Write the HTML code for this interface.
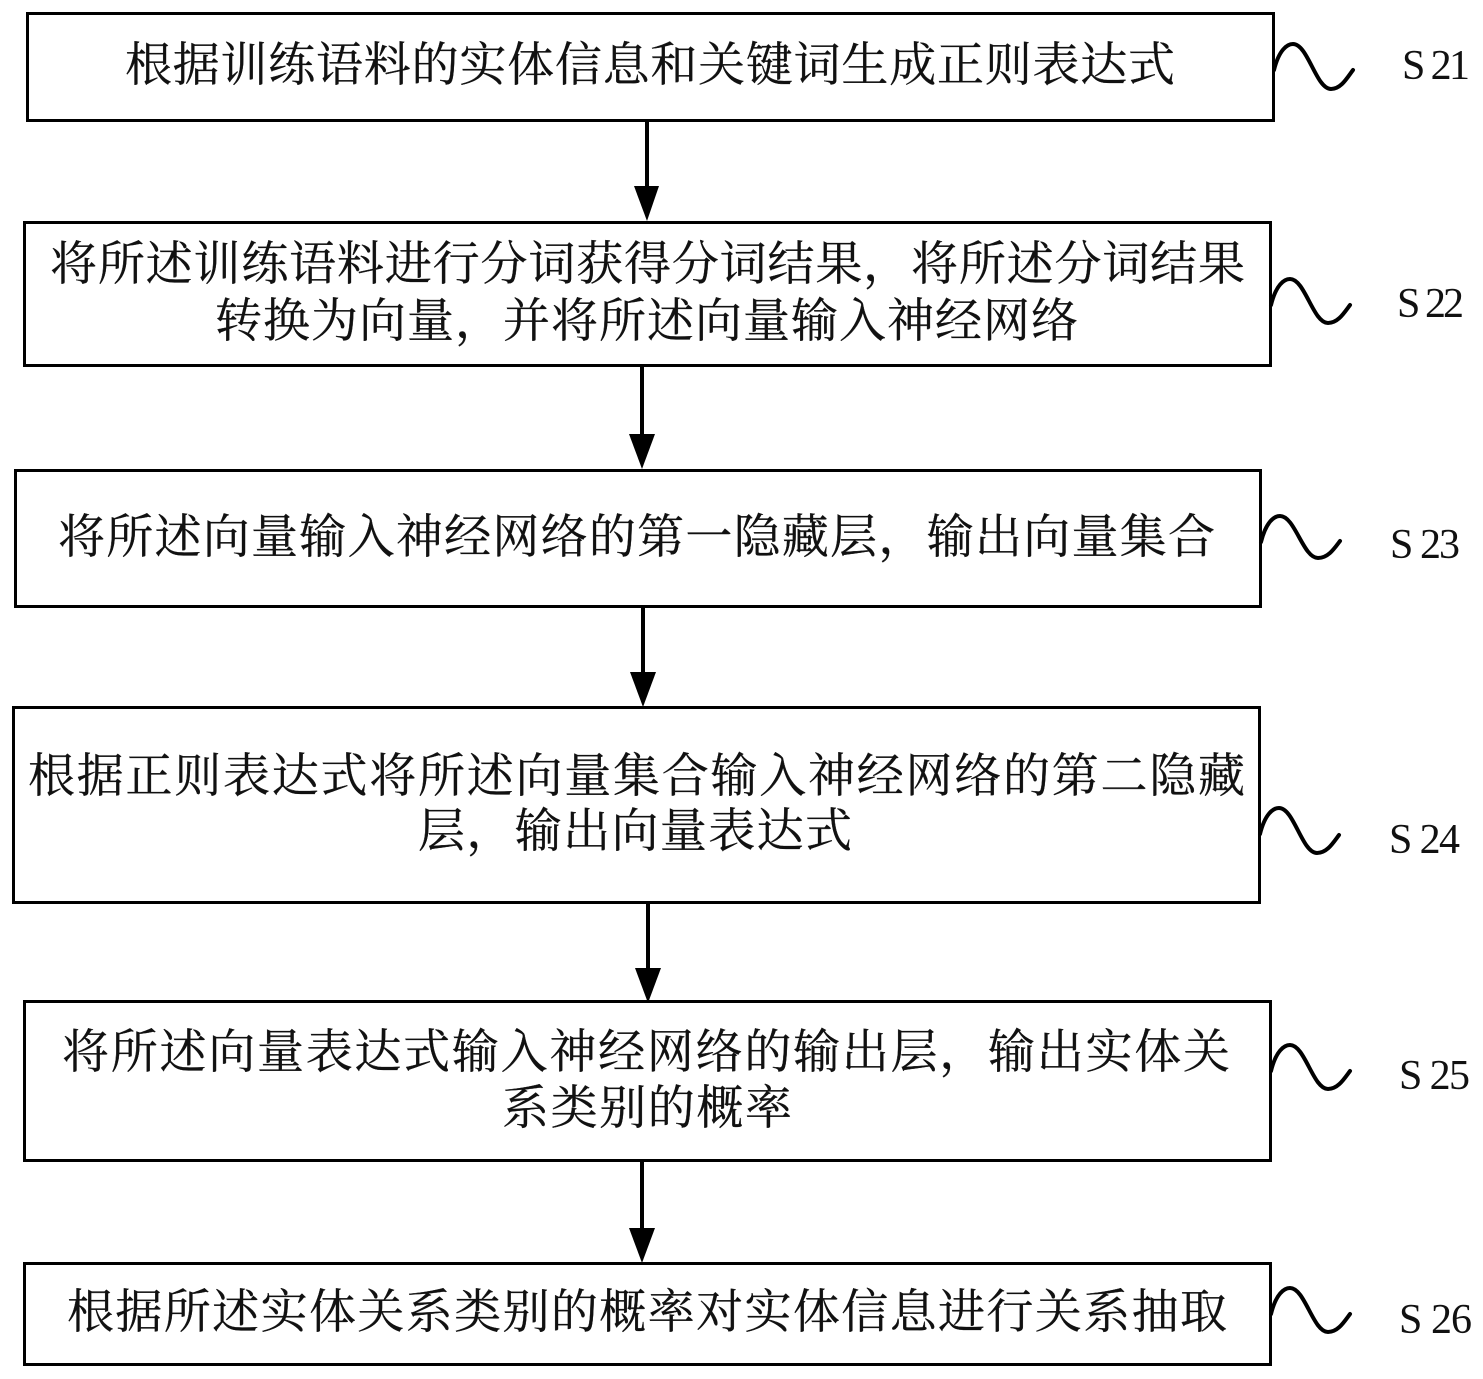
<!DOCTYPE html>
<html><head><meta charset="utf-8"><style>
html,body{margin:0;padding:0;background:#fff}
svg{display:block}
.c{font-family:"Liberation Serif","Noto Serif CJK SC",serif;font-size:47px;fill:#111;stroke:#111;stroke-width:.3}
.l{font-family:"Liberation Serif",serif;font-size:42px;fill:#111}
rect{fill:#fff;stroke:#000;stroke-width:3}
.a{stroke:#000;stroke-width:4;fill:none}
.s{stroke:#000;stroke-width:4;fill:none;stroke-linecap:round}
</style></head><body>
<svg width="1483" height="1379" viewBox="0 0 1483 1379" xmlns="http://www.w3.org/2000/svg">
<rect x="27.5" y="13.5" width="1246" height="107"/>
<rect x="24.5" y="222.5" width="1246" height="143"/>
<rect x="15.5" y="470.5" width="1245" height="136"/>
<rect x="13.5" y="707.5" width="1246" height="195"/>
<rect x="24.5" y="1001.5" width="1246" height="159"/>
<rect x="24.5" y="1263.5" width="1246" height="101"/>

<path class="a" d="M647 120V190"/><path d="M634 186H659L647 221Z"/>
<path class="a" d="M642 365V438"/><path d="M629 434H655L642 469Z"/>
<path class="a" d="M643 606V676"/><path d="M630 672H656L643 707Z"/>
<path class="a" d="M648 902V972"/><path d="M635 968H661L648 1003Z"/>
<path class="a" d="M642 1160V1232"/><path d="M629 1228H655L642 1263Z"/>

<text class="c" x="125" y="81" textLength="1050" lengthAdjust="spacing">根据训练语料的实体信息和关键词生成正则表达式</text>
<text class="c" x="50" y="280" textLength="1195" lengthAdjust="spacing">将所述训练语料进行分词获得分词结果，将所述分词结果</text>
<text class="c" x="215" y="337" textLength="863" lengthAdjust="spacing">转换为向量，并将所述向量输入神经网络</text>
<text class="c" x="58" y="553" textLength="1157" lengthAdjust="spacing">将所述向量输入神经网络的第一隐藏层，输出向量集合</text>
<text class="c" x="28" y="792" textLength="1217" lengthAdjust="spacing">根据正则表达式将所述向量集合输入神经网络的第二隐藏</text>
<text class="c" x="418" y="847" textLength="434" lengthAdjust="spacing">层，输出向量表达式</text>
<text class="c" x="62" y="1068" textLength="1168" lengthAdjust="spacing">将所述向量表达式输入神经网络的输出层，输出实体关</text>
<text class="c" x="502" y="1124" textLength="290" lengthAdjust="spacing">系类别的概率</text>
<text class="c" x="67" y="1328" textLength="1160" lengthAdjust="spacing">根据所述实体关系类别的概率对实体信息进行关系抽取</text>

<path class="s" d="M1274 70C1279 50 1287 44 1293 44C1308 44 1316 89 1331 89C1341 89 1347 78 1353 70"/>
<path class="s" d="M1271 305C1276 285 1284 279 1290 279C1305 279 1313 323 1328 323C1338 323 1344 313 1350 305"/>
<path class="s" d="M1261 542C1266 522 1274 516 1280 516C1295 516 1303 558 1318 558C1328 558 1334 549 1340 541"/>
<path class="s" d="M1260 834C1265 814 1273 808 1279 808C1294 808 1302 853 1317 853C1327 853 1333 843 1339 835"/>
<path class="s" d="M1271 1071C1276 1051 1284 1045 1290 1045C1305 1045 1313 1089 1328 1089C1338 1089 1344 1079 1350 1071"/>
<path class="s" d="M1271 1314C1276 1294 1284 1288 1290 1288C1305 1288 1313 1332 1328 1332C1338 1332 1344 1322 1350 1314"/>

<text class="l" x="1402" y="79" textLength="68" lengthAdjust="spacing">S 21</text>
<text class="l" x="1397" y="317" textLength="67" lengthAdjust="spacing">S 22</text>
<text class="l" x="1390" y="558" textLength="70" lengthAdjust="spacing">S 23</text>
<text class="l" x="1389" y="853" textLength="71" lengthAdjust="spacing">S 24</text>
<text class="l" x="1399" y="1089" textLength="71" lengthAdjust="spacing">S 25</text>
<text class="l" x="1399" y="1333" textLength="73" lengthAdjust="spacing">S 26</text>
</svg>
</body></html>
